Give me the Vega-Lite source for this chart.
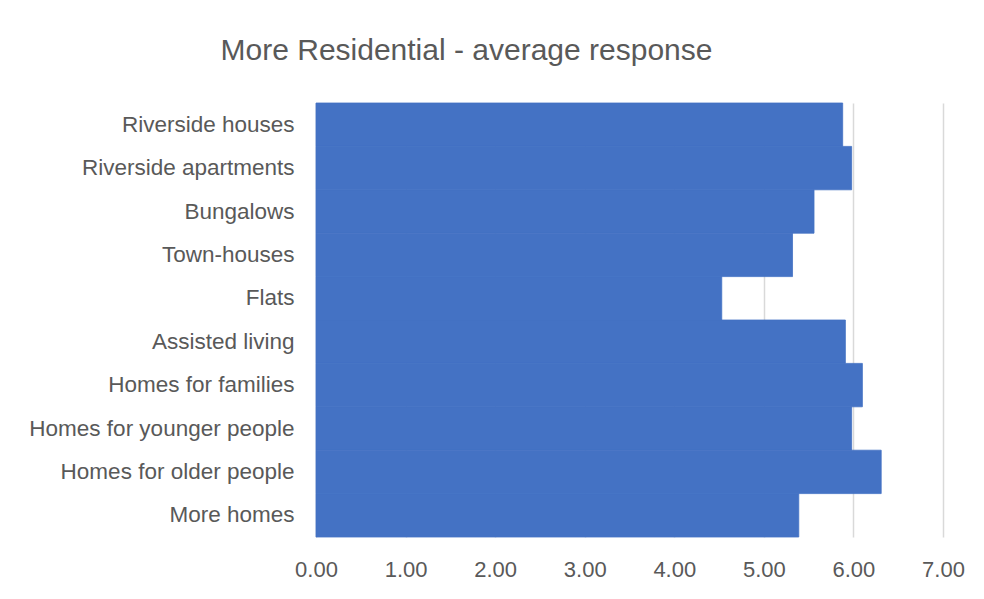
{
  "$schema": "https://vega.github.io/schema/vega-lite/v6.json",
  "autosize": {"type": "none"},
  "width": 627,
  "height": 434,
  "padding": {"left": 316, "top": 103, "right": 41, "bottom": 62},
  "background": "white",
  "title": {
    "text": "More Residential - average response",
    "anchor": "middle",
    "dx": -163,
    "offset": 37,
    "fontSize": 30,
    "font": "Liberation Sans",
    "fontWeight": "normal",
    "color": "#595959"
  },
  "data": {
    "values": [
      {"category": "Riverside houses", "value": 5.88},
      {"category": "Riverside apartments", "value": 5.98},
      {"category": "Bungalows", "value": 5.56},
      {"category": "Town-houses", "value": 5.32},
      {"category": "Flats", "value": 4.53},
      {"category": "Assisted living", "value": 5.91},
      {"category": "Homes for families", "value": 6.10},
      {"category": "Homes for younger people", "value": 5.98},
      {"category": "Homes for older people", "value": 6.31},
      {"category": "More homes", "value": 5.39}
    ]
  },
  "mark": {"type": "bar", "color": "#4472C4", "stroke": "#4472C4", "strokeWidth": 0.8},
  "encoding": {
    "y": {
      "field": "category",
      "type": "nominal",
      "sort": null,
      "scale": {"paddingInner": 0, "paddingOuter": 0},
      "axis": {
        "title": null,
        "ticks": false,
        "domain": false,
        "labelPadding": 22,
        "labelFontSize": 22.5,
        "labelLimit": 400,
        "labelFont": "Liberation Sans",
        "labelColor": "#595959",
        "grid": false
      }
    },
    "x": {
      "field": "value",
      "type": "quantitative",
      "scale": {"domain": [0, 7], "nice": false},
      "axis": {
        "title": null,
        "values": [0, 1, 2, 3, 4, 5, 6, 7],
        "format": ".2f",
        "ticks": false,
        "domain": false,
        "grid": true,
        "gridColor": "#d9d9d9",
        "gridWidth": 1.5,
        "labelFlush": false,
        "labelPadding": 22,
        "labelFontSize": 22,
        "labelFont": "Liberation Sans",
        "labelColor": "#595959"
      }
    }
  },
  "config": {"view": {"stroke": null}}
}
